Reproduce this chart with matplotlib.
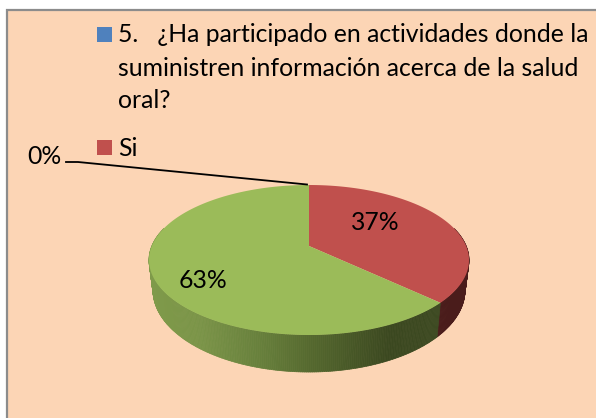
import numpy as np
import matplotlib
matplotlib.use("Agg")
import matplotlib.pyplot as plt
from matplotlib.collections import PolyCollection
from matplotlib.colors import to_rgb
from matplotlib.patches import Rectangle
from matplotlib.path import Path
from matplotlib.transforms import Affine2D, Transform

plt.rcParams['font.family'] = ['Lato', 'DejaVu Sans']

# data
values = [0, 37, 63]
colors = ['#4F81BD', '#C0504D', '#9BBB59']
legend_lines = ['5.   ¿Ha participado en actividades donde la',
                'suministren información acerca de la salud',
                'oral?']
legend_si = 'Si'

W, H = 596, 418
CX, CY, A, B, K = 309.0, 246.0, 157.2, 72.4, 0.1867


class Persp(Transform):
    input_dims = output_dims = 2
    is_separable = False
    has_inverse = False

    def __init__(self, sx=1.0, sy=1.0, dy=0.0):
        super().__init__()
        self.sx, self.sy, self.dy = sx, sy, dy

    def transform_non_affine(self, xy):
        xy = np.asarray(xy, float)
        d = 1 + K * xy[:, 1]
        return np.column_stack([CX + self.sx * A * xy[:, 0] / d,
                                CY + self.dy - self.sy * B * xy[:, 1] / d])

    def transform_path_non_affine(self, path):
        polys = path.transformed(Affine2D().scale(500)).to_polygons(closed_only=False)
        if not polys:
            return Path(np.zeros((1, 2)))
        verts = np.vstack(polys) / 500
        return Path(self.transform_non_affine(verts))


fig = plt.figure(figsize=(W / 100, H / 100), dpi=100, facecolor='white')
ax = fig.add_axes([0, 0, 1, 1])

wedges, _ = ax.pie(values, colors=colors, startangle=90, counterclock=False, radius=1.0)
ax.set_aspect('auto')
ax.set_xlim(0, W)
ax.set_ylim(H, 0)
ax.axis('off')

ax.add_patch(Rectangle((7, 10), 620, 440, fc='#FCD5B5', ec='#8C8C8C', lw=1.6, zorder=0))

top = Persp()
for w in wedges:
    w.set_transform(top + ax.transData)
    w.set_clip_on(False)
    w.set_zorder(3)
    w.set_edgecolor('none')

# side wall, one thin strip per step of the rim, shaded along x
low = Persp(sx=0.975, sy=1.09, dy=29)
stop_x = [150, 200, 260, 310, 390, 440]
stop_c = np.array([to_rgb(c) for c in ['#7F9A4A', '#7A9448', '#67803C', '#55692F', '#3B4820', '#3D4A22']])
cum = np.cumsum([0] + values) / sum(values) * 2 * np.pi
polys, cols = [], []
for start, end, val in zip(cum[:-1], cum[1:], values):
    if val == 0:
        continue
    th = np.linspace(start, end, max(int(val * 6), 2))
    pts = np.column_stack([np.sin(th), np.cos(th)])
    p1 = top.transform_non_affine(pts)
    p2 = low.transform_non_affine(pts)
    for i in range(len(th) - 1):
        if pts[i, 1] > 0.25 and pts[i + 1, 1] > 0.25:
            continue
        polys.append([p1[i], p1[i + 1], p2[i + 1], p2[i]])
        xm = (p1[i, 0] + p1[i + 1, 0]) / 2
        if val == values[1]:
            cols.append(to_rgb('#4A1C1B'))
        else:
            cols.append(tuple(np.interp(xm, stop_x, stop_c[:, j]) for j in range(3)))
ax.add_collection(PolyCollection(polys, facecolors=cols, edgecolors=cols, linewidths=0.5, zorder=2))

# legend
fs = 17.8
ax.add_patch(Rectangle((97, 27), 15, 15, fc=colors[0], ec='none', zorder=4))
ax.add_patch(Rectangle((97, 140), 15, 15, fc=colors[1], ec='none', zorder=4))
for y, line in zip([35, 68, 101], legend_lines):
    ax.text(118, y, line, fontsize=fs, va='center', ha='left', color='black', zorder=5)
ax.text(118, 148, legend_si, fontsize=fs, va='center', ha='left', color='black', zorder=5)

# data labels
ax.text(44, 157, f'{values[0]}%', fontsize=fs, va='center', ha='center', zorder=5)
ax.text(375, 223, f'{values[1]}%', fontsize=fs, va='center', ha='center', zorder=5)
ax.text(203, 280, f'{values[2]}%', fontsize=fs, va='center', ha='center', zorder=5)
ax.plot([66, 78, 307], [162, 162, 184.5], color='black', lw=1.3, zorder=5)

fig.savefig('out.png', dpi=100, facecolor='white')
